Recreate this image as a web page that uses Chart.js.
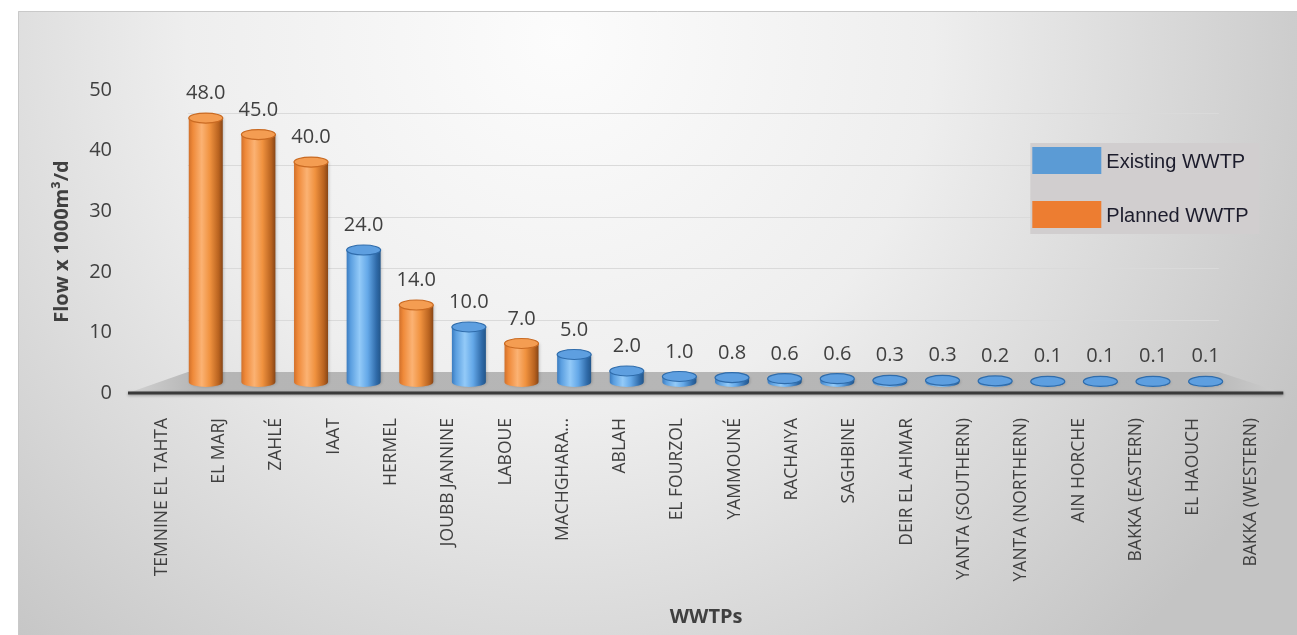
<!DOCTYPE html>
<html>
<head>
<meta charset="utf-8">
<title>WWTP flows</title>
<script src="https://cdn.jsdelivr.net/npm/chart.js@4.4.1/dist/chart.umd.min.js"></script>
<style>
  html, body { margin: 0; padding: 0; background: #fff; }
  canvas { display: block; }
</style>
</head>
<body>
<canvas id="flowChart" width="1297" height="635"></canvas>
<script>
    // plants, flow (x 1000 m3/d) and whether the plant is built or planned
    const plants = [
        'TEMNINE EL TAHTA', 'EL MARJ', 'ZAHLÉ', 'IAAT', 'HERMEL', 'JOUBB JANNINE',
        'LABOUE', 'MACHGHARA...', 'ABLAH', 'EL FOURZOL', 'YAMMOUNÉ', 'RACHAIYA',
        'SAGHBINE', 'DEIR EL AHMAR', 'YANTA (SOUTHERN)', 'YANTA (NORTHERN)',
        'AIN HORCHE', 'BAKKA (EASTERN)', 'EL HAOUCH', 'BAKKA (WESTERN)'
    ];
    const flows = [48.0, 45.0, 40.0, 24.0, 14.0, 10.0, 7.0, 5.0, 2.0, 1.0,
                   0.8, 0.6, 0.6, 0.3, 0.3, 0.2, 0.1, 0.1, 0.1, 0.1];
    const status = ['P', 'P', 'P', 'E', 'P', 'E', 'P', 'E', 'E', 'E',
                    'E', 'E', 'E', 'E', 'E', 'E', 'E', 'E', 'E', 'E'];
    const yTicks = [0, 10, 20, 30, 40, 50];

    const TEXT = '#404040';
    const shades = {
        E: { stops: ['#3b7cc0', '#5b9fe0', '#93caf8', '#64a8e8', '#2f6aa8', '#23568a'], cap: '#5e9fe0', rim: '#2f6cab' },
        P: { stops: ['#d2702a', '#ef8a3a', '#fbb273', '#f0923f', '#b8621f', '#874617'], cap: '#f49d52', rim: '#c96a22' }
    };

    function pointsFor(kind) {
        const pts = [];
        flows.forEach((v, i) => { if (status[i] === kind) pts.push({ x: i, y: v }); });
        return pts;
    }

    const RY = 5; // half height of the cylinder caps

    function drawCylinder(ctx, el, pal) {
        const cx = el.x, rx = el.width / 2, top = el.y, bottom = el.base;
        const g = ctx.createLinearGradient(cx - rx, 0, cx + rx, 0);
        const pos = [0, 0.12, 0.38, 0.62, 0.88, 1];
        pal.stops.forEach((c, k) => g.addColorStop(pos[k], c));

        ctx.save();
        ctx.shadowColor = 'rgba(0,0,0,0.2)';
        ctx.shadowBlur = 3;
        ctx.shadowOffsetX = 1;
        ctx.beginPath();
        ctx.moveTo(cx - rx, top);
        ctx.lineTo(cx - rx, bottom);
        ctx.ellipse(cx, bottom, rx, RY, 0, Math.PI, 0, true);
        ctx.lineTo(cx + rx, top);
        ctx.closePath();
        ctx.fillStyle = g;
        ctx.fill();
        ctx.restore();

        ctx.beginPath();
        ctx.ellipse(cx, top, rx, RY, 0, 0, Math.PI * 2);
        ctx.fillStyle = pal.cap;
        ctx.fill();
        ctx.lineWidth = 1.2;
        ctx.strokeStyle = pal.rim;
        ctx.stroke();
    }

    const scenery = {
        id: 'scenery',
        beforeDraw(chart) {
            const ctx = chart.ctx;
            const w = chart.width, h = chart.height;
            ctx.save();
            ctx.fillStyle = '#ffffff';
            ctx.fillRect(0, 0, w, h);
            const bg = ctx.createRadialGradient(560, 40, 0, 560, 40, 830);
            bg.addColorStop(0, '#fcfcfc');
            bg.addColorStop(0.45, '#eeeeee');
            bg.addColorStop(1, '#c4c4c4');
            ctx.fillStyle = bg;
            ctx.fillRect(18, 11, w - 18, h - 11);
            ctx.strokeStyle = '#c9c9c9';
            ctx.lineWidth = 1;
            ctx.beginPath();
            ctx.moveTo(18.5, h);
            ctx.lineTo(18.5, 11.5);
            ctx.lineTo(w, 11.5);
            ctx.stroke();
            ctx.restore();
        },
        beforeDatasetsDraw(chart) {
            const ctx = chart.ctx;
            const area = chart.chartArea;
            const y = chart.scales.y, wall = chart.scales.yWall, xb = chart.scales.xBar;
            const front = y.getPixelForValue(0), back = wall.getPixelForValue(0);
            const fl = area.left - 5, fr = area.right + 4;
            const bl = xb.getPixelForValue(-0.34), br = xb.getPixelForValue(19.25);

            ctx.save();
            // back wall grid lines
            ctx.strokeStyle = '#dadada';
            ctx.lineWidth = 1.2;
            yTicks.slice(1).forEach(t => {
                const py = Math.round(wall.getPixelForValue(t)) + 0.5;
                ctx.beginPath();
                ctx.moveTo(bl, py);
                ctx.lineTo(br, py);
                ctx.stroke();
            });

            // floor
            const fg = ctx.createLinearGradient(fl, 0, fr, 0);
            fg.addColorStop(0, '#d2d2d2');
            fg.addColorStop(0.06, '#b5b5b5');
            fg.addColorStop(0.93, '#b7b7b7');
            fg.addColorStop(1, '#cdcdcd');
            ctx.fillStyle = fg;
            ctx.beginPath();
            ctx.moveTo(fl, front);
            ctx.lineTo(bl, back);
            ctx.lineTo(br, back);
            ctx.lineTo(fr, front);
            ctx.closePath();
            ctx.fill();

            // front edge of the floor
            ctx.shadowColor = 'rgba(0,0,0,0.35)';
            ctx.shadowBlur = 3;
            ctx.shadowOffsetY = 1;
            ctx.strokeStyle = '#3a3a3a';
            ctx.lineWidth = 3;
            ctx.beginPath();
            ctx.moveTo(fl, front);
            ctx.lineTo(fr, front);
            ctx.stroke();
            ctx.restore();
        },
        beforeDatasetDraw(chart, args) {
            const ds = chart.data.datasets[args.index];
            const ctx = chart.ctx;
            args.meta.data.forEach(el => drawCylinder(ctx, el, shades[ds.kind]));
            return false;
        },
        afterDatasetsDraw(chart) {
            const ctx = chart.ctx;
            ctx.save();
            ctx.font = '20px "Open Sans"';
            ctx.fillStyle = TEXT;
            ctx.textAlign = 'center';
            ctx.textBaseline = 'alphabetic';
            chart.data.datasets.forEach((ds, d) => {
                chart.getDatasetMeta(d).data.forEach((el, i) => {
                    ctx.fillText(ds.data[i].y.toFixed(1), el.x, el.y - RY - 14);
                });
            });
            ctx.restore();
        },
        afterDraw(chart) {
            // legend box
            const ctx = chart.ctx;
            const area = chart.chartArea;
            const bx = area.right - 249, by = area.top + 53;
            ctx.save();
            ctx.fillStyle = '#d1cecf';
            ctx.fillRect(bx, by, 229, 91);
            ctx.font = '20px "Liberation Sans", Arial, sans-serif';
            ctx.textBaseline = 'alphabetic';
            chart.data.datasets.forEach((ds, d) => {
                const sy = by + 4 + d * 54;
                ctx.fillStyle = ds.backgroundColor;
                ctx.fillRect(bx + 2, sy, 69, 27);
                ctx.fillStyle = '#1c1c2c';
                ctx.fillText(ds.label, bx + 76, sy + 21);
            });
            ctx.restore();
        }
    };

    const ctx = document.getElementById('flowChart').getContext('2d');
    const chart = new Chart(ctx, {
        type: 'bar',
        data: {
            labels: plants,
            datasets: [
                { label: 'Existing WWTP', kind: 'E', backgroundColor: '#5b9bd5', data: pointsFor('E'),
                  xAxisID: 'xBar', yAxisID: 'yBar', grouped: false, barThickness: 34 },
                { label: 'Planned WWTP', kind: 'P', backgroundColor: '#ed7d31', data: pointsFor('P'),
                  xAxisID: 'xBar', yAxisID: 'yBar', grouped: false, barThickness: 34 }
            ]
        },
        options: {
            responsive: false,
            animation: false,
            devicePixelRatio: 1,
            layout: { padding: { left: 46, right: 14, top: 90, bottom: 2 } },
            plugins: { legend: { display: false }, tooltip: { enabled: false } },
            scales: {
                x: {
                    type: 'category',
                    position: 'bottom',
                    offset: true,
                    grid: { display: false, drawTicks: false },
                    border: { display: false },
                    ticks: {
                        autoSkip: false, minRotation: 90, maxRotation: 90, padding: 25,
                        color: TEXT, font: { family: 'Open Sans', size: 17.5 }
                    },
                    title: {
                        display: true, text: 'WWTPs', color: TEXT,
                        font: { family: 'Open Sans', size: 20, weight: 'bold' }
                    },
                    afterFit(scale) { scale.height = 240; }
                },
                xBar: {
                    type: 'linear', display: false, position: 'bottom',
                    min: -1.383, max: 20.40, offset: false
                },
                y: {
                    type: 'linear',
                    position: 'left',
                    min: yTicks[0],
                    max: yTicks[yTicks.length - 1],
                    grid: { display: false, drawTicks: false },
                    border: { display: false },
                    ticks: {
                        stepSize: 10, padding: 21, color: TEXT,
                        font: { family: 'Open Sans', size: 20 }
                    },
                    title: {
                        display: true, text: 'Flow x 1000m³/d', color: TEXT,
                        font: { family: 'Open Sans', size: 20, weight: 'bold' }
                    },
                    afterFit(scale) { scale.width = 87; }
                },
                yBar: { type: 'linear', display: false, position: 'left', min: -2.0, max: 53.1 },
                yWall: { type: 'linear', display: false, position: 'left', min: -4.05, max: 54.44 }
            }
        },
        plugins: [scenery]
    });
</script>
</body>
</html>
